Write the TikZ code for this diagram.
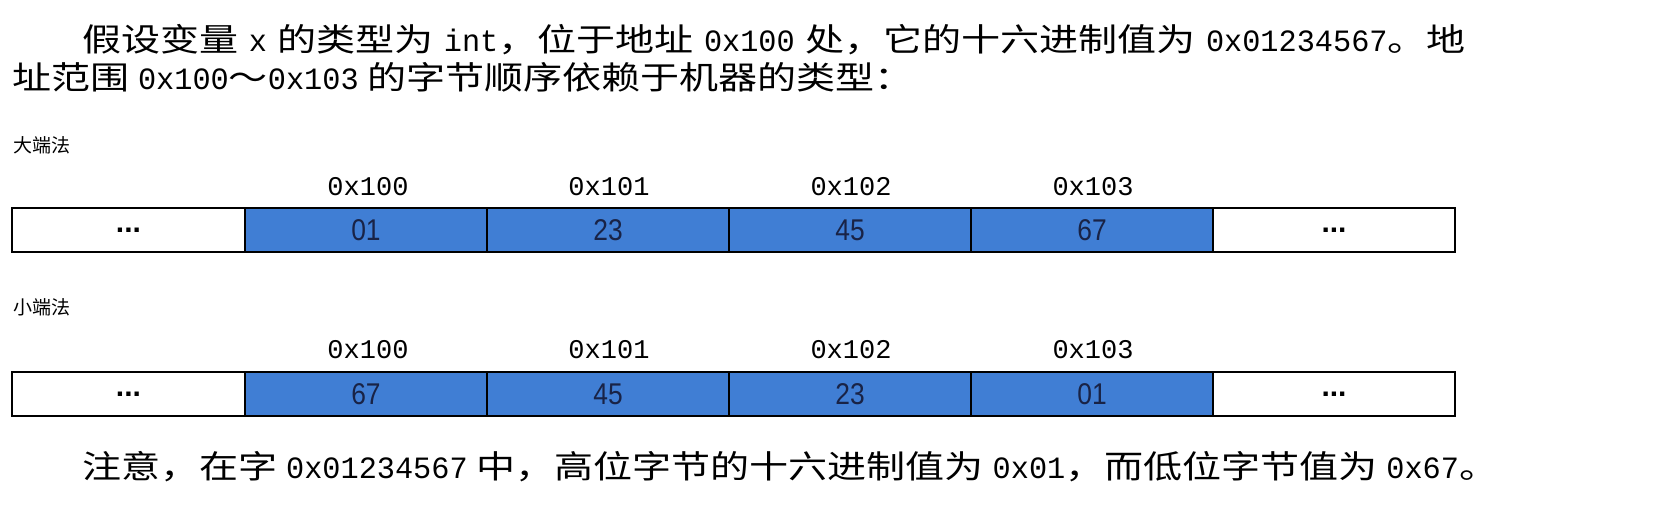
\documentclass[tikz,border=0pt]{standalone}
\usepackage{fontspec}
\setmainfont{Liberation Sans}
\newfontfamily\cjk{Noto Sans CJK SC}
\newfontfamily\monof{Liberation Mono}
\newcommand{\m}[1]{\scalebox{0.8}[1]{\monof\fontsize{31}{34}\selectfont #1}}
\newcommand{\widetext}[1]{\scalebox{1.22}[1]{#1}}
\newcommand{\digits}[1]{\scalebox{0.88}[1]{#1}}
\definecolor{byteblue}{RGB}{64,126,212}
\definecolor{digitink}{RGB}{25,35,70}
\begin{document}
\begin{tikzpicture}[x=1pt,y=-1pt,
  body/.style={inner sep=0pt, font=\cjk\fontsize{32}{38}\selectfont},
  side/.style={inner sep=0pt, anchor=west, font=\cjk\fontsize{19}{23}\selectfont},
  addr/.style={inner sep=0pt, font=\monof\fontsize{27}{32}\selectfont},
  cell/.style={draw=black, line width=2.5pt, minimum height=44pt, inner sep=0pt,
    font=\fontsize{30}{34}\selectfont},
  blank/.style={cell, fill=white},
  byte/.style={cell, fill=byteblue, minimum width=242pt, text=digitink}
]
\useasboundingbox (0,0) rectangle (1674,521);
\fill[white] (0,0) rectangle (1674,521);

% paragraph
\node[body, anchor=west] (p1) at (82,40) {\widetext{\makebox[1134pt][s]{假设变量\ \m{x}\ 的类型为\ \m{int}，位于地址\ \m{0x100}\ 处，它的十六进制值为\ \m{0x01234567}。地}}};
\node[body, anchor=west] (p2) at (12,77) {\widetext{址范围\ \m{0x100}～\m{0x103}\ 的字节顺序依赖于机器的类型：}};

% big endian
\node[side] (big) at (13,145) {大端法};
\node[addr] (ba0) at (368,187) {0x100};
\node[addr] (ba1) at (609,187) {0x101};
\node[addr] (ba2) at (851,187) {0x102};
\node[addr] (ba3) at (1093,187) {0x103};
\node[blank, minimum width=233pt] (bl) at (128.5,230) {\textbf{...}};
\node[byte] (b0) at (366,230) {\digits{01}};
\node[byte] (b1) at (608,230) {\digits{23}};
\node[byte] (b2) at (850,230) {\digits{45}};
\node[byte] (b3) at (1092,230) {\digits{67}};
\node[blank, minimum width=242pt] (br) at (1334,230) {\textbf{...}};

% little endian
\node[side] (little) at (13,307) {小端法};
\node[addr] (la0) at (368,350) {0x100};
\node[addr] (la1) at (609,350) {0x101};
\node[addr] (la2) at (851,350) {0x102};
\node[addr] (la3) at (1093,350) {0x103};
\node[blank, minimum width=233pt] (ll) at (128.5,394) {\textbf{...}};
\node[byte] (l0) at (366,394) {\digits{67}};
\node[byte] (l1) at (608,394) {\digits{45}};
\node[byte] (l2) at (850,394) {\digits{23}};
\node[byte] (l3) at (1092,394) {\digits{01}};
\node[blank, minimum width=242pt] (lr) at (1334,394) {\textbf{...}};

% note
\node[body, anchor=west] (note) at (82,467) {\widetext{注意，在字\ \m{0x01234567}\ 中，高位字节的十六进制值为\ \m{0x01}，而低位字节值为\ \m{0x67}。}};
\end{tikzpicture}
\end{document}
